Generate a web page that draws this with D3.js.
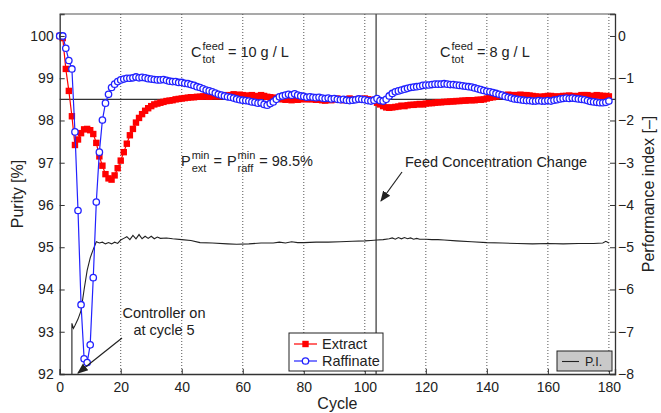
<!DOCTYPE html>
<html>
<meta charset="utf-8">
<head>
	<script src="https://cdn.jsdelivr.net/npm/d3@7"></script>
	<style>
		body { margin: 0; background: #fff; }
		text { font-family: "Liberation Sans", Arial, Helvetica, sans-serif; fill: #222; }
		.grid { stroke: #555; stroke-width: 1; stroke-dasharray: 1,2; }
	</style>
</head>
<body>
<script>
	// cycle numbers 0..180 for the two purity series
	var cycles = d3.range(0, 181);

	var extract = [100, 99.95, 99.22, 98.7, 98.1, 97.42, 97.55, 97.7, 97.79, 97.8,
		97.77, 97.68, 97.47, 97.15, 96.93, 96.73, 96.63, 96.6, 96.7, 96.87,
		97.05, 97.25, 97.45, 97.65, 97.8, 97.95, 98.06, 98.15, 98.23, 98.29,
		98.34, 98.38, 98.4, 98.42, 98.44, 98.46, 98.47, 98.48, 98.5, 98.51,
		98.52, 98.53, 98.54, 98.55, 98.55, 98.56, 98.56, 98.57, 98.57, 98.56,
		98.57, 98.58, 98.57, 98.58, 98.6, 98.58, 98.6, 98.62, 98.6, 98.61,
		98.6, 98.58, 98.59, 98.6, 98.58, 98.57, 98.6, 98.58, 98.56, 98.55,
		98.54, 98.53, 98.52, 98.5, 98.49, 98.5, 98.48, 98.5, 98.49, 98.5,
		98.52, 98.5, 98.51, 98.5, 98.49, 98.5, 98.48, 98.47, 98.5, 98.48,
		98.5, 98.52, 98.5, 98.48, 98.5, 98.52, 98.5, 98.49, 98.51, 98.5,
		98.52, 98.5, 98.49, 98.47, 98.42, 98.38, 98.34, 98.31, 98.3, 98.31,
		98.32, 98.33, 98.35, 98.34, 98.36, 98.37, 98.37, 98.38, 98.39, 98.38,
		98.4, 98.41, 98.41, 98.42, 98.43, 98.43, 98.44, 98.44, 98.45, 98.45,
		98.46, 98.46, 98.47, 98.47, 98.48, 98.48, 98.48, 98.49, 98.49, 98.5,
		98.52, 98.54, 98.55, 98.57, 98.58, 98.6, 98.6, 98.61, 98.6, 98.6,
		98.6, 98.61, 98.6, 98.6, 98.59, 98.58, 98.57, 98.56, 98.56, 98.57,
		98.58, 98.58, 98.57, 98.56, 98.57, 98.58, 98.58, 98.59, 98.58, 98.57,
		98.58, 98.6, 98.6, 98.6, 98.58, 98.58, 98.6, 98.59, 98.58, 98.58,
		98.57];

	var raffinate = [100, 100, 99.71, 99.42, 99.22, 97.73, 95.87, 93.64, 92.36, 92.27,
		92.69, 94.28, 96.07, 97.25, 98.01, 98.41, 98.62, 98.78, 98.86, 98.92,
		98.96, 98.98, 99.0, 99.0, 99.01, 99.03, 99.01, 99.02, 99.01, 98.99,
		98.98, 98.97, 98.96, 98.96, 98.97, 98.95, 98.93, 98.92, 98.92, 98.9,
		98.9, 98.88, 98.87, 98.85, 98.83, 98.8, 98.78, 98.75, 98.72, 98.7,
		98.68, 98.65, 98.62, 98.6, 98.58, 98.56, 98.55, 98.53, 98.51, 98.49,
		98.48, 98.47, 98.46, 98.44, 98.43, 98.41, 98.42, 98.38, 98.36, 98.4,
		98.44, 98.5, 98.56, 98.58, 98.6, 98.62, 98.6, 98.63, 98.6, 98.58,
		98.57, 98.55, 98.56, 98.55, 98.54, 98.55, 98.53, 98.52, 98.53, 98.51,
		98.52, 98.5, 98.49, 98.5, 98.48, 98.47, 98.48, 98.49, 98.51, 98.5,
		98.49, 98.47, 98.46, 98.48, 98.52, 98.47, 98.46, 98.5, 98.58, 98.64,
		98.68, 98.7, 98.72, 98.74, 98.76, 98.78, 98.79, 98.8, 98.81, 98.83,
		98.84, 98.84, 98.85, 98.86, 98.86, 98.86, 98.87, 98.86, 98.85, 98.85,
		98.84, 98.83, 98.82, 98.81, 98.8, 98.79, 98.77, 98.75, 98.73, 98.71,
		98.69, 98.68, 98.66, 98.64, 98.62, 98.6, 98.57, 98.55, 98.53, 98.51,
		98.5, 98.49, 98.48, 98.47, 98.47, 98.46, 98.46, 98.47, 98.46, 98.46,
		98.47, 98.46, 98.48, 98.49, 98.51, 98.52, 98.53, 98.52, 98.53, 98.52,
		98.51, 98.5, 98.49, 98.47, 98.45, 98.44, 98.43, 98.42, 98.42, 98.43,
		98.46];

	// performance index (right axis)
	var piCycles = [4, 4, 4.5, 5, 6, 7, 8, 9, 10, 11, 12, 13, 14, 15, 16, 17, 18, 19, 20,
		21, 22, 23, 24, 25, 26, 27, 28, 29, 30, 31, 32, 33, 35, 37, 40, 43, 46, 50, 55, 58,
		62, 66, 70, 72, 74, 76, 78, 80, 84, 88, 92, 96, 100, 102, 104, 106, 108, 109, 110,
		111, 112, 113, 114, 115, 116, 117, 118, 120, 122, 124, 126, 130, 135, 140, 145,
		150, 155, 160, 165, 170, 175, 178, 179, 180];
	var piValues = [-8, -6.8, -6.92, -6.85, -6.7, -6.5, -6.0, -5.55, -5.25, -5.05, -4.87,
		-4.9, -4.88, -4.92, -4.89, -4.92, -4.88, -4.91, -4.83, -4.79, -4.75, -4.82, -4.72,
		-4.8, -4.7, -4.8, -4.74, -4.79, -4.74, -4.8, -4.76, -4.79, -4.78, -4.8, -4.82, -4.84,
		-4.89, -4.9, -4.92, -4.93, -4.92, -4.9, -4.9, -4.88, -4.9, -4.87, -4.89, -4.89, -4.88,
		-4.88, -4.87, -4.86, -4.85, -4.84, -4.83, -4.82, -4.8, -4.78, -4.81, -4.77, -4.8,
		-4.77, -4.8, -4.78, -4.81, -4.79, -4.81, -4.81, -4.82, -4.82, -4.83, -4.85, -4.87,
		-4.89, -4.9, -4.91, -4.92, -4.91, -4.92, -4.91, -4.91, -4.9, -4.86, -4.9];

	var xTicks = [0, 20, 40, 60, 80, 100, 120, 140, 160, 180];
	var yTicks = [92, 93, 94, 95, 96, 97, 98, 99, 100];
	var piTicks = [-8, -7, -6, -5, -4, -3, -2, -1, 0];
	var purityMin = 98.5;
	var changeCycle = 103.7;

	var width = 661, height = 413;
	var pLeft = 59.7, pRight = 615, pTop = 14, pBottom = 374;

	var x = d3.scaleLinear().domain([0, 182]).range([pLeft, pRight]);
	var y = d3.scaleLinear().domain([92, 100.52]).range([pBottom, pTop]);
	var y2 = d3.scaleLinear().domain([-8, 0.52]).range([pBottom, pTop]);

	var svg = d3.select("body").append("svg")
		.attr("width", width)
		.attr("height", height);

	// dotted grid
	svg.selectAll(".grid")
		.data(xTicks.slice(1))
		.enter().append("line")
		.attr("class", "grid")
		.attr("x1", function(d) { return x(d); })
		.attr("x2", function(d) { return x(d); })
		.attr("y1", pTop)
		.attr("y2", pBottom);

	// reference lines
	svg.append("line")
		.attr("x1", pLeft).attr("x2", pRight)
		.attr("y1", y(purityMin)).attr("y2", y(purityMin))
		.attr("stroke", "#333").attr("stroke-width", 1.2);
	svg.append("line")
		.attr("x1", x(changeCycle)).attr("x2", x(changeCycle))
		.attr("y1", pTop).attr("y2", pBottom)
		.attr("stroke", "#333").attr("stroke-width", 1.2);

	var plot = svg.append("g");

	// PI line
	var piLine = d3.line()
		.x(function(d, i) { return x(piCycles[i]); })
		.y(function(d) { return y2(d); });
	plot.append("path")
		.datum(piValues)
		.attr("fill", "none")
		.attr("stroke", "#222")
		.attr("stroke-width", 1.1)
		.attr("d", piLine);

	var purLine = d3.line()
		.x(function(d, i) { return x(cycles[i]); })
		.y(function(d) { return y(d); });

	// extract
	var sq = 6.4;
	plot.append("path")
		.datum(extract)
		.attr("fill", "none")
		.attr("stroke", "#f00")
		.attr("stroke-width", 1.2)
		.attr("d", purLine);
	plot.selectAll(".ext")
		.data(extract)
		.enter().append("rect")
		.attr("class", "ext")
		.attr("x", function(d, i) { return x(cycles[i]) - sq / 2; })
		.attr("y", function(d) { return y(d) - sq / 2; })
		.attr("width", sq)
		.attr("height", sq)
		.attr("fill", "#f00");

	// raffinate
	plot.append("path")
		.datum(raffinate)
		.attr("fill", "none")
		.attr("stroke", "#22f")
		.attr("stroke-width", 1.2)
		.attr("d", purLine);
	plot.selectAll(".raf")
		.data(raffinate)
		.enter().append("circle")
		.attr("class", "raf")
		.attr("cx", function(d, i) { return x(cycles[i]); })
		.attr("cy", function(d) { return y(d); })
		.attr("r", 3.2)
		.attr("fill", "#fff")
		.attr("stroke", "#22f")
		.attr("stroke-width", 1.3);

	// axes
	var fs = "14px";
	var xAxis = svg.append("g")
		.attr("transform", "translate(0," + pBottom + ")")
		.call(d3.axisBottom(x).tickValues(xTicks).tickSize(-5).tickPadding(8));
	var yAxis = svg.append("g")
		.attr("transform", "translate(" + pLeft + ",0)")
		.call(d3.axisLeft(y).tickValues(yTicks).tickSize(-5).tickPadding(6));
	var y2Axis = svg.append("g")
		.attr("transform", "translate(" + pRight + ",0)")
		.call(d3.axisRight(y2).tickValues(piTicks).tickSize(-5).tickPadding(3));
	[xAxis, yAxis, y2Axis].forEach(function(a) {
		a.selectAll("text").style("font-size", fs).attr("fill", "#222");
		a.selectAll("line").attr("stroke", "#333");
		a.select(".domain").attr("stroke", "#333").attr("stroke-width", 1.3);
	});
	svg.append("line")
		.attr("x1", pLeft).attr("x2", pRight).attr("y1", pTop).attr("y2", pTop)
		.attr("stroke", "#555").attr("stroke-width", 1.2);

	// axis titles
	svg.append("text")
		.attr("x", (pLeft + pRight) / 2).attr("y", 409)
		.attr("text-anchor", "middle")
		.style("font-size", "16px")
		.text("Cycle");
	svg.append("text")
		.attr("transform", "translate(23," + (pTop + pBottom) / 2 + ") rotate(-90)")
		.attr("text-anchor", "middle")
		.style("font-size", "16px")
		.text("Purity [%]");
	svg.append("text")
		.attr("transform", "translate(654," + (pTop + pBottom) / 2 + ") rotate(-90)")
		.attr("text-anchor", "middle")
		.style("font-size", "16px")
		.text("Performance index [\u2013]");

	// text with sub and superscripts
	function subsup(xp, yp, base, sup, sub, rest) {
		var t = svg.append("text").attr("x", xp).attr("y", yp)
			.style("font-size", "14.5px").text(base);
		var w = t.node().getComputedTextLength();
		var s1 = svg.append("text").attr("x", xp + w + 1).attr("y", yp - 7)
			.style("font-size", "11px").text(sup);
		var s2 = svg.append("text").attr("x", xp + w + 1).attr("y", yp + 6)
			.style("font-size", "11px").text(sub);
		var w2 = Math.max(s1.node().getComputedTextLength(), s2.node().getComputedTextLength());
		var r = svg.append("text").attr("x", xp + w + w2 + 5).attr("y", yp)
			.style("font-size", "14.5px").text(rest);
		return xp + w + w2 + 5 + r.node().getComputedTextLength();
	}
	subsup(191, 57, "C", "feed", "tot", "= 10 g / L");
	subsup(440, 57, "C", "feed", "tot", "= 8 g / L");
	var nx = subsup(181, 166, "P", "min", "ext", "=");
	subsup(nx + 5, 166, "P", "min", "raff", "= 98.5%");

	svg.append("text").attr("x", 405).attr("y", 167)
		.style("font-size", "14.5px").text("Feed Concentration Change");
	svg.append("text").attr("x", 164).attr("y", 318).attr("text-anchor", "middle")
		.style("font-size", "14.5px").text("Controller on");
	svg.append("text").attr("x", 164).attr("y", 335).attr("text-anchor", "middle")
		.style("font-size", "14.5px").text("at cycle 5");

	// arrows
	svg.append("defs").append("marker")
		.attr("id", "arr").attr("viewBox", "0 0 10 10")
		.attr("refX", 9).attr("refY", 5)
		.attr("markerWidth", 9).attr("markerHeight", 9)
		.attr("orient", "auto")
		.append("path").attr("d", "M0,1 L10,5 L0,9 Z").attr("fill", "#222");
	svg.append("line")
		.attr("x1", 402).attr("y1", 172).attr("x2", 381).attr("y2", 201)
		.attr("stroke", "#222").attr("stroke-width", 1.2).attr("marker-end", "url(#arr)");
	svg.append("line")
		.attr("x1", 122).attr("y1", 338).attr("x2", 78).attr("y2", 373)
		.attr("stroke", "#222").attr("stroke-width", 1.2).attr("marker-end", "url(#arr)");

	// legend: purity
	var lg = svg.append("g").attr("transform", "translate(289,333)");
	lg.append("rect").attr("width", 94).attr("height", 38)
		.attr("fill", "#fff").attr("stroke", "#222").attr("stroke-width", 1);
	lg.append("line").attr("x1", 5).attr("x2", 28).attr("y1", 11).attr("y2", 11)
		.attr("stroke", "#f00").attr("stroke-width", 1.2);
	lg.append("rect").attr("x", 16.5 - sq / 2).attr("y", 11 - sq / 2).attr("width", sq).attr("height", sq)
		.attr("fill", "#f00");
	lg.append("text").attr("x", 33).attr("y", 16).style("font-size", "14.5px").text("Extract");
	lg.append("line").attr("x1", 5).attr("x2", 28).attr("y1", 28).attr("y2", 28)
		.attr("stroke", "#22f").attr("stroke-width", 1.2);
	lg.append("circle").attr("cx", 16.5).attr("cy", 28).attr("r", 3.2)
		.attr("fill", "#fff").attr("stroke", "#22f").attr("stroke-width", 1.3);
	lg.append("text").attr("x", 33).attr("y", 33).style("font-size", "14.5px").text("Raffinate");

	// legend: PI
	var lg2 = svg.append("g").attr("transform", "translate(557,351)");
	lg2.append("rect").attr("width", 55).attr("height", 20)
		.attr("fill", "#c9c9c9").attr("stroke", "#222").attr("stroke-width", 1);
	lg2.append("line").attr("x1", 5).attr("x2", 22).attr("y1", 10.5).attr("y2", 10.5)
		.attr("stroke", "#222").attr("stroke-width", 1.1);
	lg2.append("text").attr("x", 28).attr("y", 15).style("font-size", "12.5px").text("P.I.");
</script>
</body>
</html>
